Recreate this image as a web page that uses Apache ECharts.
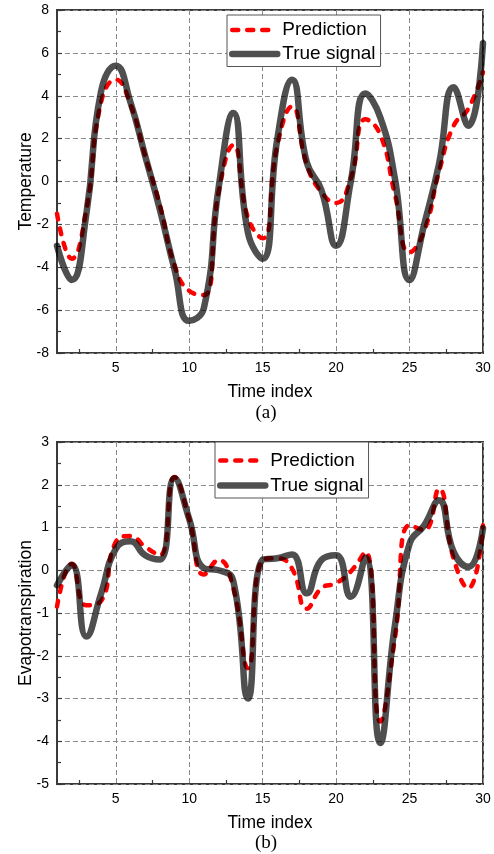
<!DOCTYPE html>
<html>
<head>
<meta charset="utf-8">
<script src="https://cdn.jsdelivr.net/npm/echarts@6/dist/echarts.min.js"></script>
<style>
html,body{margin:0;padding:0;background:#fff;}
#c{width:494px;height:854px;}
</style>
</head>
<body>
<div id="c"></div>
<script>
// Time index 1..30
const timeIndex = [1,2,3,4,5,6,7,8,9,10,11,12,13,14,15,16,17,18,19,20,21,22,23,24,25,26,27,28,29,30];

// (a) Temperature
const tempTrue = [-3.0,-4.6,-1.5,4.2,5.4,3.7,1.2,-1.3,-4.1,-6.5,-5.9,-0.3,3.2,-2.4,-3.6,2.0,4.75,0.9,-0.4,-3.0,0.0,4.1,3.0,0.15,-4.6,-2.0,0.8,4.4,2.6,6.45];
const tempPred = [-1.5,-3.6,-1.3,3.7,4.75,3.6,1.2,-1.1,-3.9,-5.1,-5.3,-0.5,1.7,-1.7,-2.65,1.7,3.5,0.8,-0.5,-1.0,0.15,2.9,2.2,-0.6,-3.3,-2.3,0.45,2.6,3.4,5.1];

// (b) Evapotranspiration
const evapTrue = [-0.35,0.12,-1.55,-0.55,0.5,0.68,0.35,0.25,2.15,1.2,0.05,0.0,-0.25,-3.0,0.25,0.28,0.37,-0.54,0.24,0.35,-0.62,0.3,-4.04,-1.3,0.62,1.05,1.64,0.43,0.08,0.98];
const evapPred = [-0.85,0.15,-0.82,-0.72,0.66,0.8,0.55,0.35,2.18,1.2,-0.1,0.24,-0.42,-2.29,0.24,0.28,0.04,-0.9,-0.42,-0.3,-0.03,0.43,-3.54,-1.6,1.05,0.94,1.9,0.27,-0.42,1.05];

// tick labels
const xTickLabels = [5,10,15,20,25,30];
const xMinorTicks = [2.5,7.5,12.5,17.5,22.5,27.5];
const tempTicks = [-8,-6,-4,-2,0,2,4,6,8];
const evapTicks = [-5,-4,-3,-2,-1,0,1,2,3];

const seriesNames = ['Prediction','True signal'];
const axisNames = {x:'Time index', y1:'Temperature', y2:'Evapotranspiration'};
const panelLabels = ['(a)','(b)'];

const SANS = '"Liberation Sans", Arial, sans-serif';
const SERIF = '"Liberation Serif", "Times New Roman", serif';

const PRED_COLOR = '#ff0000';
const TRUE_COLOR = 'rgba(0,0,0,0.69)';
const PRED_DASH = [6,9];

function pairs(ys){ return ys.map((v,i)=>[timeIndex[i], v]); }

const grids = [
  {left:57, right:11, top:10, height:343, show:true, borderColor:'#3a3a3a', borderWidth:2, backgroundColor:'transparent'},
  {left:57, right:11, top:442, height:342, show:true, borderColor:'#3a3a3a', borderWidth:2, backgroundColor:'transparent'}
];

function mainX(gi){
  return {
    type:'value', gridIndex:gi, min:timeIndex[0], max:timeIndex[timeIndex.length-1],
    name:axisNames.x, nameLocation:'middle', nameGap:30, nameMoveOverlap:false,
    nameTextStyle:{fontFamily:SANS, fontSize:17.5, color:'#000'},
    axisLine:{show:false},
    axisTick:{show:true, inside:true, length:5, lineStyle:{color:'#3a3a3a', width:1.2}, customValues:xTickLabels},
    axisLabel:{color:'#000', fontFamily:SANS, fontSize:14, margin:8, customValues:xTickLabels},
    splitLine:{show:true, lineStyle:{color:'#8a8a8a', width:1, type:[5,3]}}
  };
}
function minorX(gi){
  return {
    type:'value', gridIndex:gi, min:timeIndex[0], max:timeIndex[timeIndex.length-1], position:'bottom',
    axisLine:{show:false},
    axisTick:{show:true, inside:true, length:4, lineStyle:{color:'#3a3a3a', width:1.2}, customValues:xMinorTicks},
    axisLabel:{show:false},
    splitLine:{show:false}
  };
}
function mainY(gi, ticks, name){
  return {
    type:'value', gridIndex:gi, min:ticks[0], max:ticks[ticks.length-1], interval:ticks[1]-ticks[0],
    name:name, nameLocation:'middle', nameGap:22, nameMoveOverlap:false,
    nameTextStyle:{fontFamily:SANS, fontSize:17.5, color:'#000'},
    axisLine:{show:false},
    axisTick:{show:true, inside:true, length:5, lineStyle:{color:'#3a3a3a', width:1.2}},
    minorTick:{show:true, splitNumber:2, length:4, lineStyle:{color:'#3a3a3a', width:1.2}},
    axisLabel:{color:'#000', fontFamily:SANS, fontSize:14, margin:8},
    splitLine:{show:true, lineStyle:{color:'#8a8a8a', width:1, type:[5,3]}},
    minorSplitLine:{show:false}
  };
}

function predSeries(xi, yi, data){
  return {name:seriesNames[0], type:'line', xAxisIndex:xi, yAxisIndex:yi, data:pairs(data),
    smooth:true, symbol:'none', z:2,
    lineStyle:{color:PRED_COLOR, width:4.5, type:PRED_DASH, cap:'round', join:'round'},
    itemStyle:{color:PRED_COLOR}};
}
function trueSeries(xi, yi, data){
  return {name:seriesNames[1], type:'line', xAxisIndex:xi, yAxisIndex:yi, data:pairs(data),
    smooth:true, symbol:'none', z:3,
    lineStyle:{color:TRUE_COLOR, width:6.5, cap:'round', join:'round'},
    itemStyle:{color:TRUE_COLOR}};
}

function legend(left, top, pad, gap){
  return {
    data:[
      {name:seriesNames[0], itemStyle:{opacity:0}, lineStyle:{color:PRED_COLOR, width:4.5, type:PRED_DASH, cap:'round', opacity:1}},
      {name:seriesNames[1], itemStyle:{opacity:0}, lineStyle:{color:TRUE_COLOR, width:6.5, type:'solid', cap:'round', opacity:1}}
    ],
    orient:'vertical', left:left, top:top,
    itemWidth:45, itemHeight:20, itemGap:gap, padding:pad,
    borderColor:'#555', borderWidth:1, backgroundColor:'#fff', borderRadius:0,
    selectedMode:false,
    textStyle:{fontFamily:SANS, fontSize:19, color:'#000'}
  };
}

const option = {
  animation:false,
  backgroundColor:'#fff',
  grid:grids,
  xAxis:[mainX(0), minorX(0), mainX(1), minorX(1)],
  yAxis:[mainY(0, tempTicks, axisNames.y1), mainY(1, evapTicks, axisNames.y2)],
  legend:[legend(227, 15, [5.5,5,3,2], 5), legend(215, 442, [9,5,3,2], 6)],
  series:[
    predSeries(0,0,tempPred), trueSeries(0,0,tempTrue),
    predSeries(2,1,evapPred), trueSeries(2,1,evapTrue)
  ],
  graphic:[
    {type:'text', x:266, y:413, style:{text:panelLabels[0], font:'19px '+SERIF, fill:'#000', textAlign:'center', textVerticalAlign:'middle'}},
    {type:'text', x:266, y:843, style:{text:panelLabels[1], font:'19px '+SERIF, fill:'#000', textAlign:'center', textVerticalAlign:'middle'}}
  ]
};

const chart = echarts.init(document.getElementById('c'), null, {renderer:'canvas'});
chart.setOption(option);
</script>
</body>
</html>
